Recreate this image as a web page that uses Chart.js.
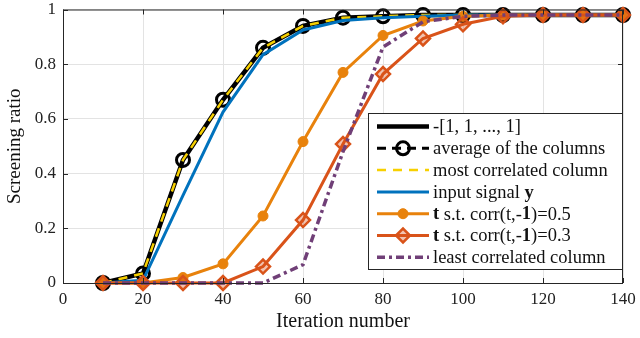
<!DOCTYPE html>
<html>
<head>
<meta charset="utf-8">
<script src="https://cdn.jsdelivr.net/npm/chart.js@4/dist/chart.umd.min.js"></script>
<style>
  html, body { margin: 0; padding: 0; background: #fff; }
  #wrap { width: 640px; height: 338px; }
</style>
</head>
<body>
<div id="wrap"><canvas id="myChart" width="640" height="338"></canvas></div>
<script>
'use strict';

// iterations on the x axis
let iterations = [10, 20, 30, 40, 50, 60, 70, 80, 90, 100, 110, 120, 130, 140];

// screening ratio for each signal
let allOnes    = [0, 0.035, 0.45, 0.67, 0.86, 0.94, 0.97, 0.975, 0.98, 0.98, 0.98, 0.98, 0.98, 0.98];
let avgColumns = [0, 0.035, 0.45, 0.67, 0.86, 0.94, 0.97, 0.975, 0.98, 0.98, 0.98, 0.98, 0.98, 0.98];
let mostCorr   = [0, 0.035, 0.45, 0.67, 0.86, 0.94, 0.97, 0.975, 0.98, 0.98, 0.98, 0.98, 0.98, 0.98];
let inputY     = [0, 0.01, 0.32, 0.625, 0.835, 0.925, 0.96, 0.97, 0.975, 0.98, 0.98, 0.98, 0.98, 0.98];
let corr05     = [0, 0, 0.02, 0.07, 0.245, 0.517, 0.77, 0.905, 0.958, 0.975, 0.98, 0.98, 0.98, 0.98];
let corr03     = [0, 0, 0, 0, 0.06, 0.23, 0.508, 0.764, 0.894, 0.946, 0.975, 0.98, 0.98, 0.98];
let leastCorr  = [0, 0, 0, 0, 0, 0.067, 0.48, 0.863, 0.955, 0.975, 0.98, 0.98, 0.98, 0.98];

let xTicks = [0, 20, 40, 60, 80, 100, 120, 140];
let yTicks = [0, 0.2, 0.4, 0.6, 0.8, 1];

const FONT = "'Liberation Serif', 'DejaVu Serif', serif";

function toPoints(values) {
  let pts = [];
  for (let i = 0; i < values.length; i++) {
    pts.push({ x: iterations[i], y: values[i] });
  }
  return pts;
}

// legend labels, split in pieces so some can be bold
let legendLabels = [
  [{ t: '-[1, 1, ..., 1]' }],
  [{ t: 'average of the columns' }],
  [{ t: 'most correlated column' }],
  [{ t: 'input signal ' }, { t: 'y', b: true }],
  [{ t: 't', b: true }, { t: ' s.t. corr(t,-' }, { t: '1', b: true }, { t: ')=0.5' }],
  [{ t: 't', b: true }, { t: ' s.t. corr(t,-' }, { t: '1', b: true }, { t: ')=0.3' }],
  [{ t: 'least correlated column' }]
];

// MATLAB style box: frame, inward ticks, legend
const matlabBox = {
  id: 'matlabBox',
  afterDatasetsDraw(chart) {
    const ctx = chart.ctx;
    const a = chart.chartArea;
    const xs = chart.scales.x;
    const ys = chart.scales.y;
    ctx.save();
    ctx.strokeStyle = '#262626';
    ctx.lineWidth = 1;
    ctx.strokeRect(a.left + 0.5, a.top + 0.5, a.right - a.left - 1, a.bottom - a.top);
    ctx.beginPath();
    xTicks.forEach(v => {
      let px = Math.round(xs.getPixelForValue(v)) + 0.5;
      ctx.moveTo(px, a.bottom); ctx.lineTo(px, a.bottom - 5);
      ctx.moveTo(px, a.top); ctx.lineTo(px, a.top + 5);
    });
    yTicks.forEach(v => {
      let py = Math.round(ys.getPixelForValue(v)) + 0.5;
      ctx.moveTo(a.left, py); ctx.lineTo(a.left + 5, py);
      ctx.moveTo(a.right, py); ctx.lineTo(a.right - 5, py);
    });
    ctx.stroke();

    // legend box
    let bx = 368, by = 113, bw = a.right - 368, bh = 157;
    ctx.fillStyle = '#fff';
    ctx.fillRect(bx, by, bw, bh);
    ctx.strokeRect(bx + 0.5, by + 0.5, bw - 1, bh - 1);

    chart.data.datasets.forEach((ds, i) => {
      let y = by + 13.5 + i * 21.8;
      let x0 = bx + 9, x1 = bx + 61;
      ctx.save();
      ctx.strokeStyle = ds.borderColor;
      ctx.lineWidth = ds.borderWidth;
      ctx.setLineDash(ds.borderDash || []);
      ctx.beginPath();
      ctx.moveTo(x0, y); ctx.lineTo(x1, y);
      ctx.stroke();
      ctx.restore();
      if (ds.pointRadius > 0) {
        ctx.save();
        ctx.lineWidth = ds.pointBorderWidth;
        ctx.strokeStyle = ds.pointBorderColor;
        ctx.fillStyle = ds.pointBackgroundColor;
        Chart.helpers.drawPoint(ctx, {
          pointStyle: ds.pointStyle,
          radius: ds.pointRadius,
          borderWidth: ds.pointBorderWidth,
          rotation: 0
        }, (x0 + x1) / 2, y);
        ctx.restore();
      }
      // label text
      let tx = x1 + 4;
      ctx.fillStyle = '#111';
      ctx.textBaseline = 'middle';
      legendLabels[i].forEach(part => {
        ctx.font = (part.b ? 'bold ' : '') + '18.5px ' + FONT;
        ctx.fillText(part.t, tx, y + 1);
        tx += ctx.measureText(part.t).width;
      });
    });
    ctx.restore();
  }
};

const ctx = document.getElementById('myChart').getContext('2d');

let options = {
  type: 'line',
  data: {
    datasets: [
      {
        label: '-[1, 1, ..., 1]',
        data: toPoints(allOnes),
        borderColor: '#000000',
        borderWidth: 4.5,
        pointRadius: 0,
        order: 6
      },
      {
        label: 'average of the columns',
        data: toPoints(avgColumns),
        borderColor: '#000000',
        borderWidth: 3,
        borderDash: [9, 6],
        pointStyle: 'circle',
        pointRadius: 6.5,
        pointBorderWidth: 3,
        pointBorderColor: '#000000',
        pointBackgroundColor: 'rgba(0,0,0,0)',
        order: 5
      },
      {
        label: 'most correlated column',
        data: toPoints(mostCorr),
        borderColor: '#F7D000',
        borderWidth: 2.5,
        borderDash: [9, 7],
        pointRadius: 0,
        order: 4
      },
      {
        label: 'input signal y',
        data: toPoints(inputY),
        borderColor: '#0072BD',
        borderWidth: 3,
        pointRadius: 0,
        order: 3
      },
      {
        label: 't s.t. corr(t,-1)=0.5',
        data: toPoints(corr05),
        borderColor: '#E8820C',
        borderWidth: 3,
        pointStyle: 'circle',
        pointRadius: 5,
        pointBorderWidth: 1,
        pointBorderColor: '#E8820C',
        pointBackgroundColor: '#E8820C',
        order: 2
      },
      {
        label: 't s.t. corr(t,-1)=0.3',
        data: toPoints(corr03),
        borderColor: '#D95319',
        borderWidth: 3,
        pointStyle: 'rectRot',
        pointRadius: 7,
        pointBorderWidth: 2.5,
        pointBorderColor: '#D95319',
        pointBackgroundColor: 'rgba(217,83,25,0.35)',
        order: 1
      },
      {
        label: 'least correlated column',
        data: toPoints(leastCorr),
        borderColor: '#703F77',
        borderWidth: 3.5,
        borderDash: [8, 4, 3, 4],
        pointRadius: 0,
        order: 0
      }
    ]
  },
  options: {
    responsive: false,
    animation: false,
    clip: false,
    layout: { padding: { left: 0, right: 17, top: 9, bottom: 0 } },
    plugins: {
      legend: { display: false },
      tooltip: { enabled: false }
    },
    elements: { line: { tension: 0 } },
    scales: {
      x: {
        type: 'linear',
        min: 0,
        max: 140,
        afterBuildTicks: scale => { scale.ticks = xTicks.map(v => ({ value: v })); },
        afterFit: scale => { scale.height = 55; scale.paddingLeft = 0; scale.paddingRight = 0; },
        grid: { color: '#e3e3e3', drawTicks: false },
        border: { display: false },
        ticks: { color: '#222', padding: 6, font: { family: FONT, size: 17 } },
        title: { display: true, text: 'Iteration number', color: '#111', padding: { top: 2 },
                 font: { family: FONT, size: 20 } }
      },
      y: {
        min: 0,
        max: 1,
        afterBuildTicks: scale => { scale.ticks = yTicks.map(v => ({ value: v })); },
        afterFit: scale => { scale.width = 63; scale.paddingTop = 0; scale.paddingBottom = 0; },
        grid: { color: '#e3e3e3', drawTicks: false },
        border: { display: false },
        ticks: {
          color: '#222', padding: 7, font: { family: FONT, size: 17 },
          callback: v => String(Math.round(v * 10) / 10)
        },
        title: { display: true, text: 'Screening ratio', color: '#111', padding: { bottom: 4 },
                 font: { family: FONT, size: 19 } }
      }
    }
  },
  plugins: [matlabBox]
};

const myChart = new Chart(ctx, options);
</script>
</body>
</html>
